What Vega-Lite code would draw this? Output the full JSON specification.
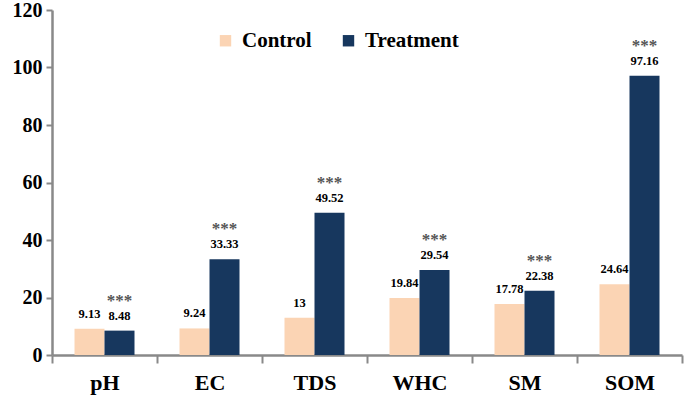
{
  "$schema": "https://vega.github.io/schema/vega-lite/v6.json",
  "autosize": "none",
  "width": 630,
  "height": 345,
  "padding": {"left": 52, "top": 10, "right": 3, "bottom": 48},
  "background": "white",
  "config": {
    "view": {"stroke": null},
    "font": "Liberation Serif"
  },
  "data": {
    "values": [
      {"param": "pH", "group": "Control", "value": 9.13, "label": "9.13", "sig": ""},
      {"param": "pH", "group": "Treatment", "value": 8.48, "label": "8.48", "sig": "***"},
      {"param": "EC", "group": "Control", "value": 9.24, "label": "9.24", "sig": ""},
      {"param": "EC", "group": "Treatment", "value": 33.33, "label": "33.33", "sig": "***"},
      {"param": "TDS", "group": "Control", "value": 13, "label": "13", "sig": ""},
      {"param": "TDS", "group": "Treatment", "value": 49.52, "label": "49.52", "sig": "***"},
      {"param": "WHC", "group": "Control", "value": 19.84, "label": "19.84", "sig": ""},
      {"param": "WHC", "group": "Treatment", "value": 29.54, "label": "29.54", "sig": "***"},
      {"param": "SM", "group": "Control", "value": 17.78, "label": "17.78", "sig": ""},
      {"param": "SM", "group": "Treatment", "value": 22.38, "label": "22.38", "sig": "***"},
      {"param": "SOM", "group": "Control", "value": 24.64, "label": "24.64", "sig": ""},
      {"param": "SOM", "group": "Treatment", "value": 97.16, "label": "97.16", "sig": "***"}
    ]
  },
  "encoding": {
    "x": {
      "field": "param", "type": "nominal", "sort": null, "title": null,
      "scale": {"paddingInner": 0, "paddingOuter": 0},
      "axis": {
        "labelAngle": 0, "labelFont": "Liberation Serif", "labelFontSize": 22, "labelFontWeight": "bold",
        "labelColor": "black", "labelPadding": 9, "tickBand": "extent",
        "domainColor": "#898989", "domainWidth": 2.5, "tickColor": "#898989", "tickWidth": 2, "tickSize": 8
      }
    },
    "xOffset": {
      "field": "group", "type": "nominal", "sort": ["Control", "Treatment"],
      "scale": {"paddingInner": 0, "paddingOuter": 0.75}
    },
    "y": {
      "field": "value", "type": "quantitative", "title": null,
      "scale": {"domain": [0, 120], "nice": false},
      "axis": {
        "values": [0, 20, 40, 60, 80, 100, 120], "grid": false,
        "labelFont": "Liberation Serif", "labelFontSize": 20, "labelFontWeight": "bold", "labelColor": "black",
        "labelPadding": 4, "domainColor": "#898989", "domainWidth": 2.5, "tickColor": "#898989", "tickWidth": 2, "tickSize": 6
      }
    }
  },
  "layer": [
    {
      "mark": {"type": "bar"},
      "encoding": {
        "color": {
          "field": "group", "type": "nominal", "sort": ["Control", "Treatment"],
          "scale": {"domain": ["Control", "Treatment"], "range": ["#FBD4B4", "#17375E"]},
          "legend": {
            "title": null, "orient": "none", "direction": "horizontal", "legendX": 163, "legendY": 20,
            "symbolType": "square", "symbolSize": 130, "symbolStrokeWidth": 0,
            "labelFont": "Liberation Serif", "labelFontSize": 21, "labelFontWeight": "bold", "labelColor": "black",
            "columnPadding": 26, "labelOffset": 6, "labelLimit": 300
          }
        }
      }
    },
    {
      "mark": {"type": "text", "baseline": "bottom", "dy": -8, "font": "Liberation Serif", "fontSize": 12.5, "fontWeight": "bold", "color": "black"},
      "encoding": {"text": {"field": "label"}}
    },
    {
      "mark": {"type": "text", "baseline": "bottom", "dy": -21, "font": "Liberation Serif", "fontSize": 17, "fontWeight": "bold", "color": "#555555"},
      "encoding": {"text": {"field": "sig"}}
    }
  ]
}
